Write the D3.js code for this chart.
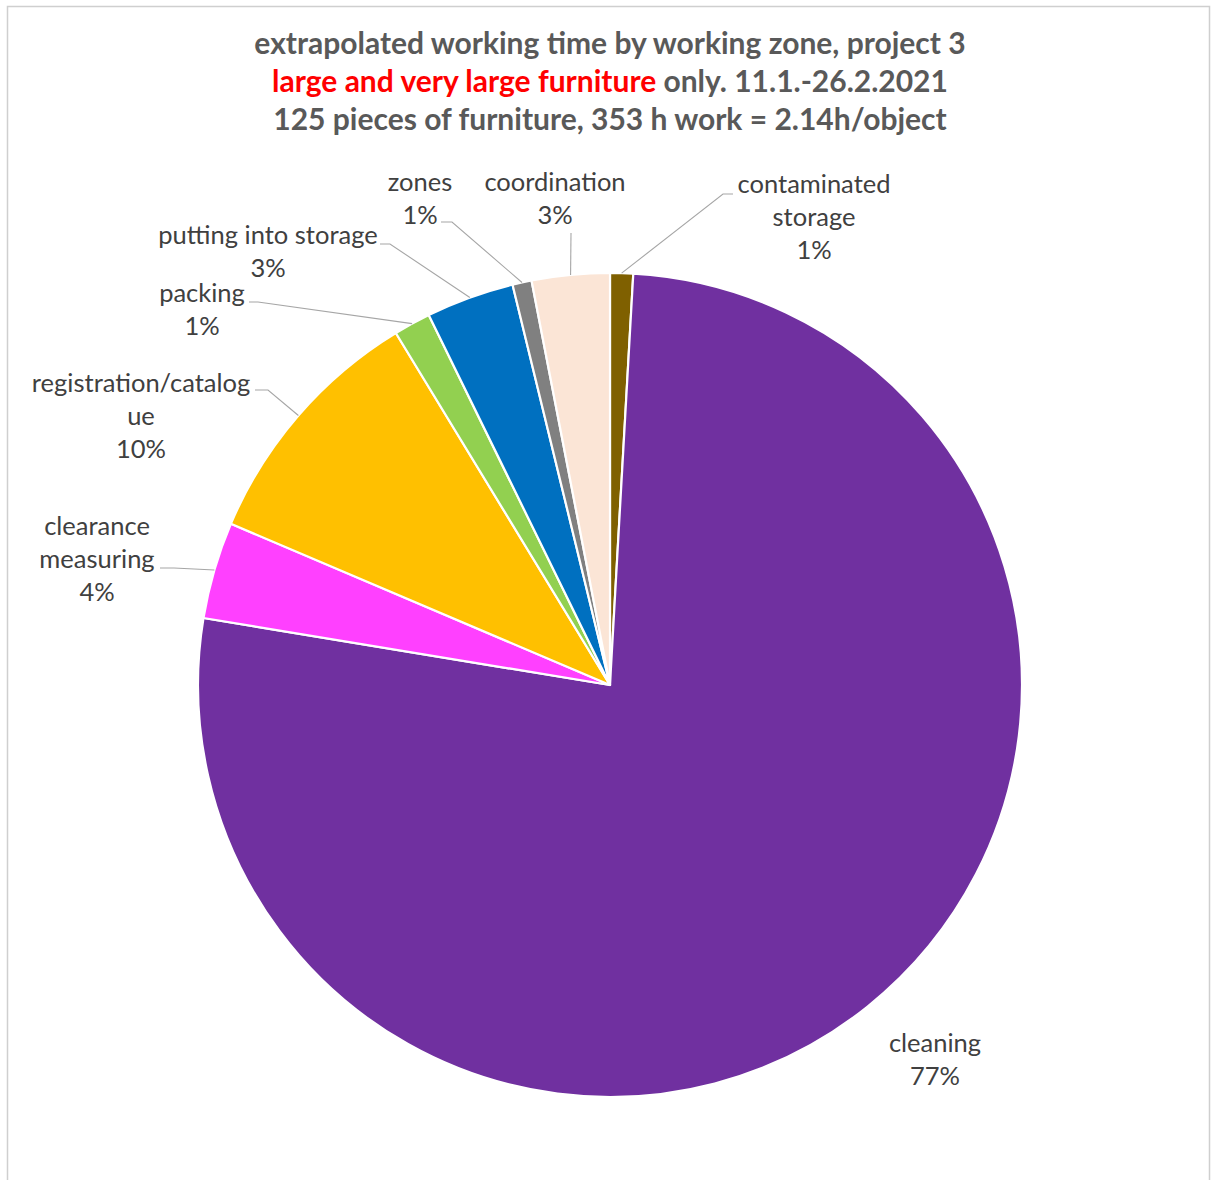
<!DOCTYPE html>
<html><head><meta charset="utf-8">
<script src="https://cdn.jsdelivr.net/npm/d3@7/dist/d3.min.js"></script>
<style>body{margin:0;background:#fff;overflow:hidden}</style>
</head><body>
<svg id="chart" width="1211" height="1180"></svg>
<script>
// ---- data ----
const categories = ["contaminated storage", "cleaning", "clearance measuring", "registration/catalogue",
                    "packing", "putting into storage", "zones", "coordination"];
const shares = [0.9, 76.7, 3.8, 9.9, 1.45, 3.45, 0.75, 3.05];
const sliceColors = ["#7F6000", "#7030A0", "#FF40FF", "#FFC000", "#92D050", "#0070C0", "#808080", "#FBE5D6"];
const titleLine1 = "extrapolated working time by working zone, project 3";
const titleLine2Red = "large and very large furniture";
const titleLine2Rest = " only. 11.1.-26.2.2021";
const titleLine3 = "125 pieces of furniture, 353 h work = 2.14h/object";

// ---- layout (label placement, as wrapped in the reference) ----
const labelLayout = [
  {lines: ["contaminated", "storage"], x: 814, y: 193, leader: [[733, 194], [723, 194]]},
  {lines: ["cleaning"], x: 935, y: 1052, leader: null},
  {lines: ["clearance", "measuring"], x: 97, y: 535, leader: [[160, 568], [174, 568]]},
  {lines: ["registration/catalog", "ue"], x: 141, y: 392, leader: [[255, 390], [268, 390]]},
  {lines: ["packing"], x: 202, y: 302, leader: [[249, 302], [258, 302]]},
  {lines: ["putting into storage"], x: 268, y: 244, leader: [[380, 244], [390, 244]]},
  {lines: ["zones"], x: 420, y: 191, leader: [[441, 222], [452, 222]]},
  {lines: ["coordination"], x: 555, y: 191, leader: [[571, 233]]}
];

const W = 1211, H = 1180;
const cx = 610, cy = 685, R = 412;
const lineH = 33;
const labelFont = "Lato, 'Open Sans', sans-serif";

const svg = d3.select("#chart");

// frame
svg.append("rect").attr("x", 7.5).attr("y", 6.5).attr("width", 1202).attr("height", 1200)
  .attr("fill", "#fff").attr("stroke", "#CFCFCF").attr("stroke-width", 1.5);

// title
const title = svg.append("text").attr("text-anchor", "middle")
  .attr("font-family", labelFont).attr("font-weight", 700).attr("font-size", 30).attr("fill", "#595959");
title.append("tspan").attr("x", 610).attr("y", 54).text(titleLine1);
const t2 = title.append("tspan").attr("x", 610).attr("y", 92);
t2.append("tspan").attr("fill", "#FF0000").text(titleLine2Red);
t2.append("tspan").text(titleLine2Rest);
title.append("tspan").attr("x", 610).attr("y", 130).text(titleLine3);

// pie
const data = categories.map((c, i) => ({name: c, value: shares[i], color: sliceColors[i], layout: labelLayout[i]}));
const total = d3.sum(shares);
const pie = d3.pie().value(d => d.value).sort(null);
const arcs = pie(data);
const arc = d3.arc().innerRadius(0).outerRadius(R);
const edgeArc = d3.arc().innerRadius(R).outerRadius(R);

const g = svg.append("g").attr("transform", `translate(${cx},${cy})`);
g.selectAll("path.slice").data(arcs).join("path")
  .attr("class", "slice")
  .attr("d", arc)
  .attr("fill", d => d.data.color)
  .attr("stroke", "#fff").attr("stroke-width", 2.2).attr("stroke-linejoin", "round");

// leader lines
const lineGen = d3.line();
arcs.forEach(d => {
  const L = d.data.layout;
  if (!L.leader) return;
  const [ex, ey] = edgeArc.centroid(d);
  const pts = L.leader.concat([[cx + ex, cy + ey]]);
  svg.append("path").attr("d", lineGen(pts)).attr("fill", "none")
    .attr("stroke", "#A6A6A6").attr("stroke-width", 1.1);
});

// labels
const pct = d3.format(".0%");
arcs.forEach(d => {
  const L = d.data.layout;
  const lines = L.lines.concat([pct(d.data.value / total)]);
  const t = svg.append("text").attr("text-anchor", "middle")
    .attr("font-family", labelFont).attr("font-size", 25.5).attr("fill", "#404040");
  lines.forEach((s, k) => t.append("tspan").attr("x", L.x).attr("y", L.y + k * lineH).text(s));
});
</script>
</body></html>
